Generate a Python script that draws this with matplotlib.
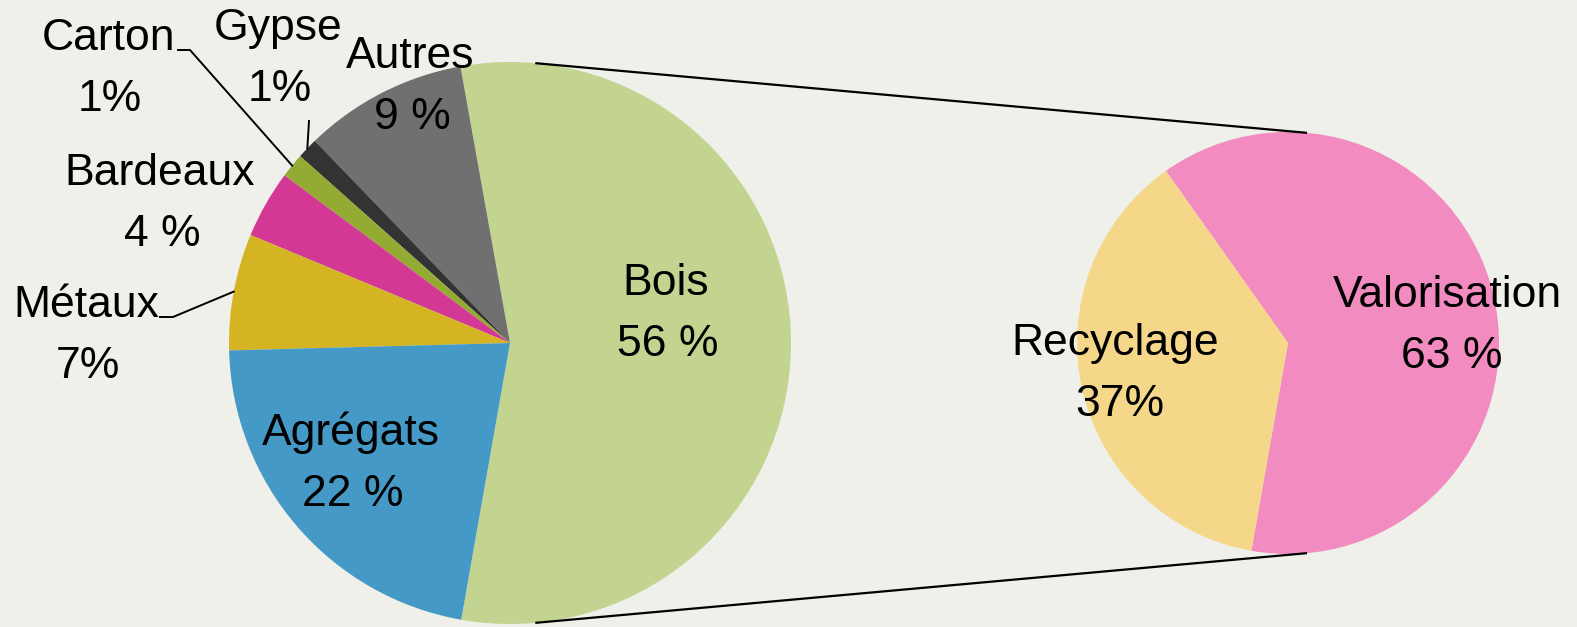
import numpy as np
import matplotlib.pyplot as plt

plt.rcParams['font.family'] = ['Liberation Sans', 'DejaVu Sans']

# first pie: waste by material (%)
materials = ['Bois', 'Autres', 'Gypse', 'Carton', 'Bardeaux', 'Métaux', 'Agrégats']
shares = [55.6, 9.4, 1.2, 1.4, 3.9, 6.7, 21.8]
share_labels = ['56 %', '9 %', '1%', '1%', '4 %', '7%', '22 %']
material_colors = ['#C2D48F', '#707070', '#333333', '#93AB33', '#D43895', '#D5B423', '#4499C6']

# second pie: breakdown of the wood (%)
fates = ['Valorisation', 'Recyclage']
fate_shares = [62.6, 37.4]
fate_labels = ['63 %', '37%']
fate_colors = ['#F28BBF', '#F5D789']

bg = '#EFF0E9'
W, H = 1577, 627

fig = plt.figure(figsize=(W / 100, H / 100), dpi=100, facecolor=bg)
ax = fig.add_axes([0, 0, 1, 1])
ax.set_facecolor(bg)

# pie geometry (pixels, y pointing up)
c1, r1 = (510, 284), 281
c2, r2 = (1288, 284), 211

w1, _ = ax.pie(shares, colors=material_colors, startangle=-100, counterclock=True,
               center=c1, radius=r1, wedgeprops=dict(linewidth=0))
w2, _ = ax.pie(fate_shares, colors=fate_colors, startangle=-100, counterclock=True,
               center=c2, radius=r2, wedgeprops=dict(linewidth=0))

# connector lines = outer common tangents of the two pies
a = np.arccos((r1 - r2) / (c2[0] - c1[0]))
for s in (1, -1):
    x1, y1 = c1[0] + r1 * np.cos(a), c1[1] + s * r1 * np.sin(a)
    x2, y2 = c2[0] + r2 * np.cos(a), c2[1] + s * r2 * np.sin(a)
    ax.plot([x1, x2], [y1, y2], color='black', lw=1.6, solid_capstyle='butt')

# label anchors: (x centre, baseline of the name)
label_pos = {
    'Bois': (666, 332), 'Autres': (410, 559), 'Gypse': (278, 587),
    'Carton': (108, 577), 'Bardeaux': (160, 442), 'Métaux': (86, 310),
    'Agrégats': (351, 182),
}
fate_pos = {'Valorisation': (1447, 320), 'Recyclage': (1115, 272)}
leaders = {
    'Carton': [(178, 577), (190, 577)],
    'Gypse': [(309, 506)],
    'Métaux': [(160, 310), (173, 310)],
}
fs = 32
pitch = 61

for name, pct, w in zip(materials, share_labels, w1):
    x, y = label_pos[name]
    ax.text(x, y, name, ha='center', va='baseline', fontsize=fs)
    ax.text(x + 2, y - pitch, pct, ha='center', va='baseline', fontsize=fs)
    if name in leaders:
        mid = np.deg2rad((w.theta1 + w.theta2) / 2)
        pts = leaders[name] + [(c1[0] + r1 * np.cos(mid), c1[1] + r1 * np.sin(mid))]
        xs, ys = zip(*pts)
        ax.plot(xs, ys, color='black', lw=1.4)

for name, pct in zip(fates, fate_labels):
    x, y = fate_pos[name]
    ax.text(x, y, name, ha='center', va='baseline', fontsize=fs)
    ax.text(x + 5, y - pitch, pct, ha='center', va='baseline', fontsize=fs)

ax.set_xlim(0, W)
ax.set_ylim(0, H)
ax.set_aspect('equal')
ax.axis('off')

fig.savefig('out.png', dpi=100, facecolor=bg)
